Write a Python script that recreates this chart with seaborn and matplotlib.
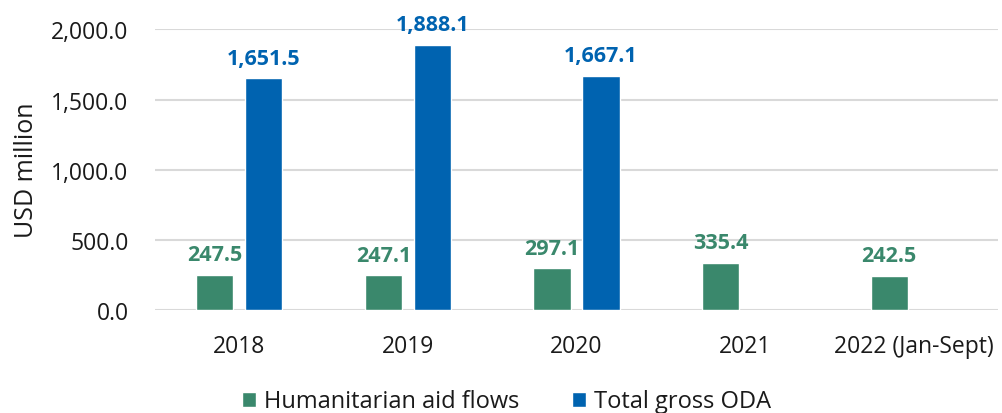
import matplotlib
matplotlib.use("Agg")
import matplotlib.pyplot as plt
from matplotlib.patches import Patch
from matplotlib.ticker import FuncFormatter
import numpy as np
import pandas as pd
import seaborn as sns

years = ["2018", "2019", "2020", "2021", "2022 (Jan-Sept)"]
humanitarian = [247.5, 247.1, 297.1, 335.4, 242.5]
total_oda = [1651.5, 1888.1, 1667.1, np.nan, np.nan]
series_names = ["Humanitarian aid flows", "Total gross ODA"]
y_ticks = [0, 500, 1000, 1500, 2000]

GREEN = "#3a886c"
BLUE = "#0063b0"
palette = {series_names[0]: GREEN, series_names[1]: BLUE}

df = pd.DataFrame({
    "year": years * 2,
    "series": [series_names[0]] * len(years) + [series_names[1]] * len(years),
    "value": humanitarian + total_oda,
})

sns.set_theme(style="white")
plt.rcParams["font.family"] = ["Open Sans", "DejaVu Sans"]

fig = plt.figure(figsize=(10.03, 4.14), dpi=100)
ax = fig.add_axes([0.1545, 0.249, 0.8405, 0.6775])

sns.barplot(data=df, x="year", y="value", hue="series", order=years,
            hue_order=series_names, palette=palette, width=0.58, gap=0.24,
            saturation=1, ax=ax, legend=False, errorbar=None)

for cont, col in zip(ax.containers, [GREEN, BLUE]):
    labels = ["" if np.isnan(v) else f"{v:,.1f}" for v in cont.datavalues]
    ax.bar_label(cont, labels=labels, padding=7, color=col,
                 fontsize=15.5, fontweight="bold")

ax.set_ylim(0, 2000)
ax.set_xlim(-0.5, len(years) - 0.5)
ax.set_yticks(y_ticks)
ax.yaxis.set_major_formatter(FuncFormatter(lambda v, p: f"{v:,.1f}"))
ax.grid(axis="y", color="#d9d9d9", linewidth=1.5)
ax.set_axisbelow(True)
for s in ax.spines.values():
    s.set_visible(False)
ax.tick_params(axis="both", length=0, labelsize=16.5, colors="#1a1a1a")
ax.tick_params(axis="y", pad=19)
ax.tick_params(axis="x", pad=17.5)
ax.set_xlabel("")
ax.set_ylabel("USD million", fontsize=18, color="#1a1a1a")
ax.yaxis.set_label_coords(-0.137, 0.5)

handles = [Patch(facecolor=GREEN, label=series_names[0]),
           Patch(facecolor=BLUE, label=series_names[1])]
fig.legend(handles=handles, loc="center", bbox_to_anchor=(0.505, 0.028),
           ncol=2, frameon=False, fontsize=17, handlelength=0.6,
           handleheight=0.6, handletextpad=0.35, columnspacing=2.2,
           labelcolor="#1a1a1a")

fig.savefig("out.png", dpi=100)
